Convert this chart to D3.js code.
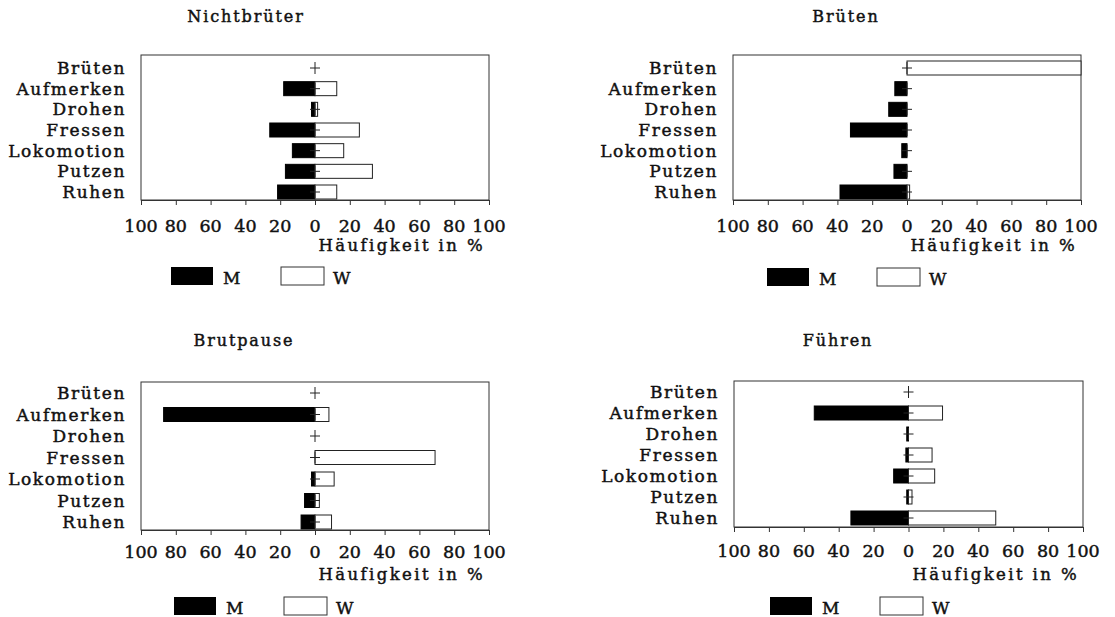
<!DOCTYPE html>
<html>
<head>
<meta charset="utf-8">
<script src="https://cdn.jsdelivr.net/npm/d3@7"></script>
<style>
  html, body { margin: 0; padding: 0; background: #fff; }
  svg text { font-family: "DejaVu Serif", serif; fill: #111; stroke: #111; stroke-width: 0.45px; }
</style>
</head>
<body>
<svg id="chart" width="1115" height="617"></svg>
<script>
// ---- data ----
const categories = ["Brüten", "Aufmerken", "Drohen", "Fressen", "Lokomotion", "Putzen", "Ruhen"];
const panelTitles = ["Nichtbrüter", "Brüten", "Brutpause", "Führen"];
const nichtbrueterM = [0, 18, 2, 26, 13, 17, 21.5];
const nichtbrueterW = [0, 12.5, 1.5, 25.5, 16.5, 33, 12.5];
const bruetenM = [0, 7, 10.5, 32.5, 3, 7.5, 38.5];
const bruetenW = [100, 0, 0, 0, 0, 0, 1.5];
const brutpauseM = [0, 87, 0, 0, 2, 6, 8];
const brutpauseW = [0, 8, 0, 69, 11, 2.5, 9.5];
const fuehrenM = [0, 54, 1, 1.5, 8.5, 1, 33];
const fuehrenW = [0, 19.5, 0, 13.5, 15, 2, 50];
const tickValues = [-100, -80, -60, -40, -20, 0, 20, 40, 60, 80, 100];
const tickLabels = ["100", "80", "60", "40", "20", "0", "20", "40", "60", "80", "100"];
const axisTitle = "Häufigkeit in %";
const legendLabels = ["M", "W"];

const seriesM = [nichtbrueterM, bruetenM, brutpauseM, fuehrenM];
const seriesW = [nichtbrueterW, bruetenW, brutpauseW, fuehrenW];

// ---- layout ----
const layout = [
  { x0: 141, x1: 489, y0: 55, y1: 200, r0: 68, r1: 192, tx: 246, ty: 22, tickY: 232, axY: 251, legX: 171, legY: 267 },
  { x0: 733, x1: 1081, y0: 55, y1: 200, r0: 68, r1: 192, tx: 846, ty: 22, tickY: 232, axY: 251, legX: 767, legY: 268 },
  { x0: 141, x1: 489, y0: 382, y1: 530, r0: 393, r1: 522, tx: 244, ty: 346, tickY: 558, axY: 580, legX: 174, legY: 597 },
  { x0: 734, x1: 1083, y0: 381, y1: 527, r0: 392, r1: 518, tx: 838, ty: 346, tickY: 557, axY: 580, legX: 770, legY: 597 }
];

const svg = d3.select("#chart");
const barH = 14;

layout.forEach((L, i) => {
  const g = svg.append("g");
  const x = d3.scaleLinear().domain([-100, 100]).range([L.x0, L.x1]);
  const y = d3.scalePoint().domain(categories).range([L.r0, L.r1]);

  // title
  g.append("text").attr("x", L.tx).attr("y", L.ty).attr("text-anchor", "middle")
    .style("font-size", "16px").style("letter-spacing", "1.9px").text(panelTitles[i]);

  // frame
  g.append("rect").attr("x", L.x0).attr("y", L.y0).attr("width", L.x1 - L.x0).attr("height", L.y1 - L.y0)
    .attr("fill", "none").attr("stroke", "#333").attr("stroke-width", 1);

  // x axis
  const axis = d3.axisBottom(x).tickValues(tickValues).tickSize(5).tickFormat("");
  const ag = g.append("g").attr("transform", `translate(0,${L.y1})`).call(axis);
  ag.select(".domain").attr("stroke", "#333");
  ag.selectAll(".tick line").attr("stroke", "#333");
  g.selectAll(".ticklab").data(tickValues).enter().append("text")
    .attr("x", d => x(d)).attr("y", L.tickY).attr("text-anchor", "middle")
    .style("font-size", "17.5px").text((d, j) => tickLabels[j]);

  g.append("text").attr("x", L.x1 - 4).attr("y", L.axY).attr("text-anchor", "end")
    .style("font-size", "16.5px").style("letter-spacing", "2.4px").text(axisTitle);

  // category labels
  g.selectAll(".cat").data(categories).enter().append("text")
    .attr("x", L.x0 - 15).attr("y", d => y(d) + 6).attr("text-anchor", "end")
    .style("font-size", "17px").style("letter-spacing", "1.6px").text(d => d);

  // M bars (left, black)
  g.selectAll(".barM").data(seriesM[i]).enter().append("rect")
    .attr("x", d => x(-d)).attr("y", (d, j) => y(categories[j]) - barH / 2)
    .attr("width", d => x(0) - x(-d)).attr("height", barH)
    .attr("fill", "#000").attr("stroke", "#000").attr("stroke-width", d => d > 0 ? 1 : 0);

  // W bars (right, white)
  g.selectAll(".barW").data(seriesW[i]).enter().append("rect")
    .attr("x", x(0)).attr("y", (d, j) => y(categories[j]) - barH / 2)
    .attr("width", d => x(d) - x(0)).attr("height", barH)
    .attr("fill", "#fff").attr("stroke", d => d > 0 ? "#222" : "none").attr("stroke-width", 1);

  // zero markers (+)
  categories.forEach(c => {
    g.append("line").attr("x1", x(0)).attr("x2", x(0)).attr("y1", y(c) - 6).attr("y2", y(c) + 6)
      .attr("stroke", "#222").attr("stroke-width", 1);
    g.append("line").attr("x1", x(0) - 5).attr("x2", x(0) + 5).attr("y1", y(c)).attr("y2", y(c))
      .attr("stroke", "#222").attr("stroke-width", 1);
  });

  // legend
  const lg = g.append("g");
  lg.append("rect").attr("x", L.legX).attr("y", L.legY).attr("width", 42).attr("height", 18)
    .attr("fill", "#000");
  lg.append("text").attr("x", L.legX + 52).attr("y", L.legY + 17).style("font-size", "17px").text(legendLabels[0]);
  lg.append("rect").attr("x", L.legX + 110).attr("y", L.legY).attr("width", 43).attr("height", 18)
    .attr("fill", "#fff").attr("stroke", "#333").attr("stroke-width", 1);
  lg.append("text").attr("x", L.legX + 162).attr("y", L.legY + 17).style("font-size", "17px").text(legendLabels[1]);
});
</script>
</body>
</html>
